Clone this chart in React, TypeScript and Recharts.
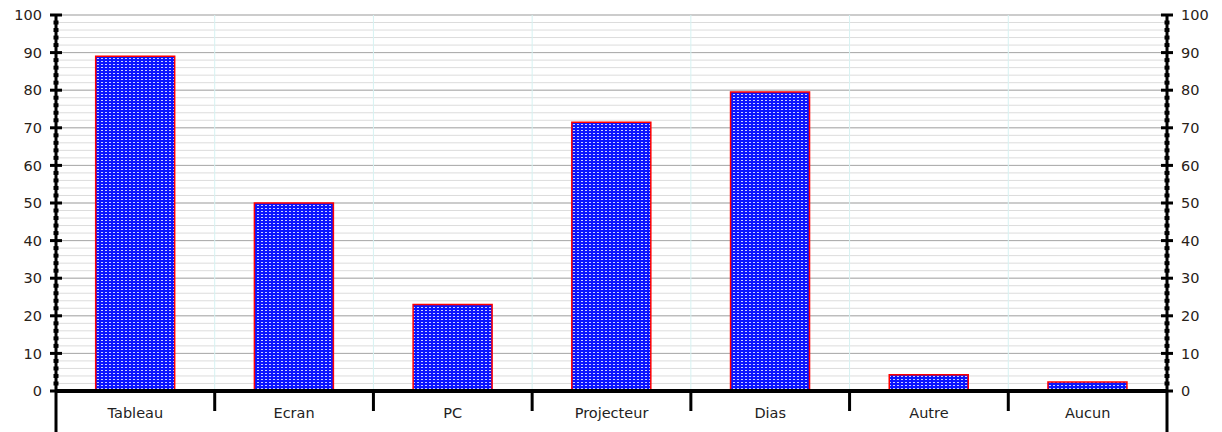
import { BarChart, Bar, Line, XAxis, YAxis, CartesianGrid } from "recharts";

const categories = ["Tableau", "Ecran", "PC", "Projecteur", "Dias", "Autre", "Aucun"];
const values = [89, 50, 23, 71.5, 79.5, 4.3, 2.4];
const allTicks = [0, 2, 4, 6, 8, 10, 12, 14, 16, 18, 20, 22, 24, 26, 28, 30, 32, 34, 36, 38, 40, 42, 44, 46, 48, 50, 52, 54, 56, 58, 60, 62, 64, 66, 68, 70, 72, 74, 76, 78, 80, 82, 84, 86, 88, 90, 92, 94, 96, 98, 100];
const majorTicks = [0, 10, 20, 30, 40, 50, 60, 70, 80, 90, 100];

const data = categories.map((c, i) => ({ name: c, value: values[i] }));

const W = 1222;
const H = 432;
const labelFont = "'DejaVu Sans', Verdana, sans-serif";

function YTick(props: any) {
  const { x, y, payload, side } = props;
  const v = payload.value;
  const major = majorTicks.includes(v);
  const dir = side === "left" ? -1 : 1;
  return (
    <g>
      {major ? (
        <line x1={x - 6} x2={x + 6} y1={y} y2={y} stroke="#000" strokeWidth={3} />
      ) : (
        <rect x={x - 2.5} y={y - 2} width={5} height={4} fill="#000" />
      )}
      {major && (
        <text x={x + dir * 14} y={y} dy="0.36em" textAnchor={side === "left" ? "end" : "start"}
          fontSize={14.5} fontFamily={labelFont} fill="#2a2218">
          {v}
        </text>
      )}
    </g>
  );
}

function XTick(props: any) {
  const { x, y, payload, index } = props;
  const half = payload.offset || 79.3;
  const last = index === categories.length - 1;
  return (
    <g>
      {index === 0 && (
        <line x1={x - half} x2={x - half} y1={y} y2={H} stroke="#000" strokeWidth={3} />
      )}
      <line x1={x + half} x2={x + half} y1={y} y2={last ? H : y + 20} stroke="#000" strokeWidth={3} />
      <text x={x} y={y + 22} dy="0.36em" textAnchor="middle" fontSize={14.5}
        fontFamily="'Comic Sans MS', 'DejaVu Sans', sans-serif" fill="#222">
        {payload.value}
      </text>
    </g>
  );
}

export default function App() {
  return (
    <div style={{ position: "absolute", left: 0, top: 0, width: W, height: H, background: "#fff" }}>
      <BarChart width={W} height={H} data={data} barCategoryGap="25%"
        margin={{ top: 15, right: 0, bottom: 0, left: 0 }}>
        <defs>
          <pattern id="dots" width={4} height={3} patternUnits="userSpaceOnUse">
            <rect width={4} height={3} fill="#0a14ff" />
            <rect x={1} y={1} width={2} height={1} fill="#c8d0ff" />
          </pattern>
        </defs>
        <CartesianGrid horizontal={true} vertical={false} stroke="#dcdcdc" yAxisId="left" />
        <CartesianGrid vertical={false} horizontalValues={majorTicks} stroke="#ababab" yAxisId="left" />
        <CartesianGrid horizontal={false} stroke="#d6f2f2"
          verticalCoordinatesGenerator={({ offset }: any) =>
            categories.slice(1).map((_, i) => offset.left + (offset.width * (i + 1)) / categories.length)
          } />
        <XAxis dataKey="name" height={41} tickSize={0} tickMargin={0} interval={0}
          axisLine={{ stroke: "#000", strokeWidth: 4 }} tick={<XTick />} />
        <YAxis yAxisId="left" domain={[0, 100]} ticks={allTicks} interval={0} width={56}
          tickSize={0} tickMargin={0} axisLine={{ stroke: "#000", strokeWidth: 3 }}
          tick={<YTick side="left" />} />
        <YAxis yAxisId="right" orientation="right" domain={[0, 100]} ticks={allTicks} interval={0} width={55}
          tickSize={0} tickMargin={0} axisLine={{ stroke: "#000", strokeWidth: 3 }}
          tick={<YTick side="right" />} />
        <Bar yAxisId="left" dataKey="value" fill="url(#dots)" stroke="#ff0000" strokeWidth={1.5}
          isAnimationActive={false} />
        <Line yAxisId="right" dataKey="value" stroke="none" dot={false} activeDot={false}
          legendType="none" isAnimationActive={false} />
      </BarChart>
    </div>
  );
}
